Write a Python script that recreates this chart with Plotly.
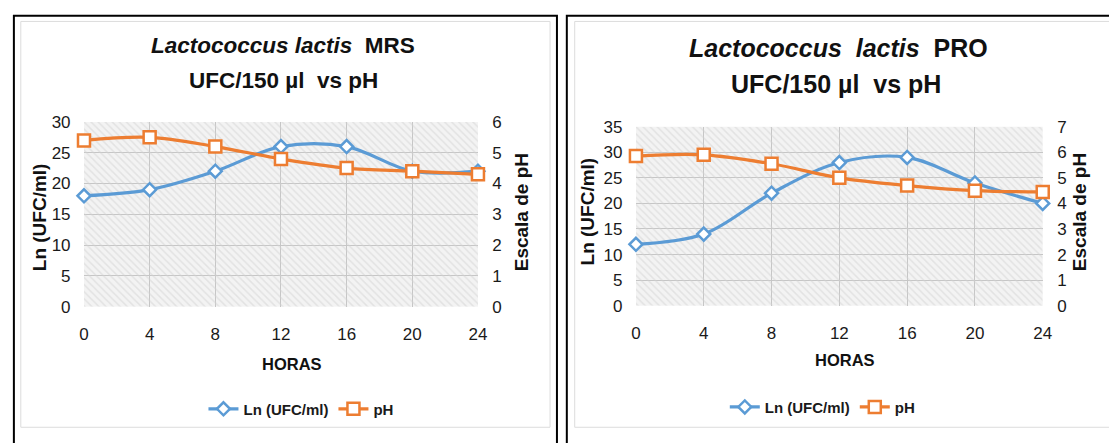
import plotly.graph_objects as go

W, H = 1109, 443

# ---------------- data ----------------
horas = [0, 4, 8, 12, 16, 20, 24]
x_ticks = [0, 4, 8, 12, 16, 20, 24]

mrs_ln = [18, 19, 22, 26, 26, 22, 22]
mrs_ph = [5.4, 5.5, 5.2, 4.8, 4.5, 4.4, 4.3]

pro_ln = [12, 14, 22, 28, 29, 24, 20]
pro_ph = [5.85, 5.9, 5.55, 5.0, 4.7, 4.5, 4.45]

mrs_ln_range = [0, 30]
mrs_ph_range = [0, 6]
pro_ln_range = [0, 35]
pro_ph_range = [0, 7]
x_range = [0, 24]

BLUE = "#5B9BD5"
ORANGE = "#ED7D31"
GRID = "#c6c6c6"
FONT = "Liberation Sans, Arial, sans-serif"


def px(x):
    return x / W


def py(y):
    return 1 - y / H


fig = go.Figure()


def background(xa, ya, yr):
    fig.add_trace(go.Scatter(
        x=[x_range[0], x_range[1], x_range[1], x_range[0], x_range[0]],
        y=[yr[0], yr[0], yr[1], yr[1], yr[0]],
        xaxis=xa, yaxis=ya, mode="lines", line=dict(width=0),
        fill="toself", fillcolor="rgba(0,0,0,0)",
        fillpattern=dict(shape="\\", fgcolor="#d2d2d2", bgcolor="rgba(0,0,0,0)",
                         size=5, solidity=0.3),
        hoverinfo="skip", showlegend=False))


def series(xa, ya, yvals, color, symbol, msize, name, legend):
    fig.add_trace(go.Scatter(
        x=horas, y=yvals, xaxis=xa, yaxis=ya, name=name, legend=legend,
        mode="lines+markers", line=dict(color=color, width=3.2, shape="spline", smoothing=1.0),
        marker=dict(symbol=symbol, size=msize, color="white", line=dict(color=color, width=2.5)),
        cliponaxis=False))


background("x", "y", mrs_ln_range)
series("x", "y", mrs_ln, BLUE, "diamond", 10, "Ln (UFC/ml)", "legend")
series("x", "y2", mrs_ph, ORANGE, "square", 12, "pH", "legend")

background("x2", "y3", pro_ln_range)
series("x2", "y3", pro_ln, BLUE, "diamond", 10, "Ln (UFC/ml)", "legend2")
series("x2", "y4", pro_ph, ORANGE, "square", 12, "pH", "legend2")

tickfont = dict(family=FONT, size=17, color="#1a1a1a")
xcommon = dict(range=x_range, tickvals=x_ticks, showgrid=True, gridcolor=GRID, gridwidth=1,
               zeroline=False, showline=False, ticks="outside", ticklen=12,
               tickcolor="rgba(0,0,0,0)", tickfont=tickfont)
ycommon = dict(showgrid=True, gridcolor=GRID, gridwidth=1, zeroline=False, showline=False,
               ticks="outside", ticklen=9, tickcolor="rgba(0,0,0,0)", tickfont=tickfont)
legfont = dict(family=FONT, size=15, color="#1a1a1a", weight="bold")

fig.update_layout(
    width=W, height=H, margin=dict(l=0, r=0, t=0, b=0),
    paper_bgcolor="white", plot_bgcolor="#f3f3f3",
    xaxis=dict(domain=[px(80), px(479)], anchor="y", **xcommon),
    yaxis=dict(domain=[py(311), py(118)], anchor="x", range=mrs_ln_range, dtick=5, **ycommon),
    yaxis2=dict(overlaying="y", side="right", anchor="x", range=mrs_ph_range, dtick=1,
                showgrid=False, zeroline=False, ticks="outside", ticklen=10,
                tickcolor="rgba(0,0,0,0)", tickfont=tickfont),
    xaxis2=dict(domain=[px(639), px(1051)], anchor="y3", **xcommon),
    yaxis3=dict(domain=[py(310), py(123)], anchor="x2", range=pro_ln_range, dtick=5, **ycommon),
    yaxis4=dict(overlaying="y3", side="right", anchor="x2", range=pro_ph_range, dtick=1,
                showgrid=False, zeroline=False, ticks="outside", ticklen=10,
                tickcolor="rgba(0,0,0,0)", tickfont=tickfont),
    legend=dict(orientation="h", x=px(201), y=py(418), xanchor="left", yanchor="middle",
                font=legfont, itemwidth=30, bgcolor="rgba(0,0,0,0)"),
    legend2=dict(orientation="h", x=px(729), y=py(416), xanchor="left", yanchor="middle",
                 font=legfont, itemwidth=30, bgcolor="rgba(0,0,0,0)"),
    showlegend=True,
)

annotations = []


def text(x, y, s, size, angle=0):
    annotations.append(dict(x=px(x), y=py(y), xref="paper", yref="paper", text=s,
                            showarrow=False, xanchor="center", yanchor="middle",
                            textangle=angle,
                            font=dict(family=FONT, size=size, color="#111111")))


# titles
text(282, 38, "<b><i>Lactococcus lactis</i>  MRS</b>", 22.5)
text(282, 75, "<b>UFC/150 µl  vs pH</b>", 22.5)
text(844, 41, "<b><i>Lactococcus  lactis</i>  PRO</b>", 25)
text(842, 78, "<b>UFC/150 µl  vs pH</b>", 25)
# axis titles
text(291, 371, "<b>HORAS</b>", 16.5)
text(851, 367, "<b>HORAS</b>", 16.5)
text(35, 218, "<b>Ln (UFC/ml)</b>", 19, -90)
text(524, 212, "<b>Escala de pH</b>", 19, -90)
text(590, 212, "<b>Ln (UFC/ml)</b>", 19, -90)
text(1089, 212, "<b>Escala de pH</b>", 19, -90)

fig.update_layout(annotations=annotations)

shapes = [
    dict(type="rect", xref="paper", yref="paper", x0=px(16), x1=px(552), y0=py(437), y1=py(13),
         line=dict(color="#dcdcdc", width=1)),
    dict(type="rect", xref="paper", yref="paper", x0=px(577), x1=px(1125), y0=py(437), y1=py(13),
         line=dict(color="#dcdcdc", width=1)),
    dict(type="rect", xref="paper", yref="paper", x0=px(9), x1=px(559), y0=py(460), y1=py(7),
         line=dict(color="black", width=2)),
    dict(type="rect", xref="paper", yref="paper", x0=px(569), x1=px(1130), y0=py(460), y1=py(7),
         line=dict(color="black", width=2)),
]
fig.update_layout(shapes=shapes)

fig.write_html("out.html")
